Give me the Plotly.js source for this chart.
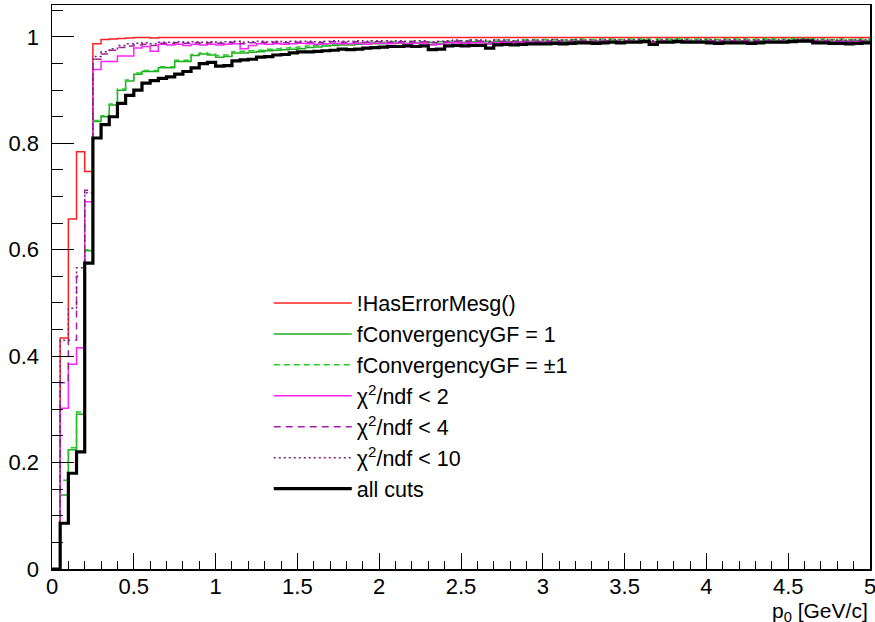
<!DOCTYPE html>
<html>
<head>
<meta charset="utf-8">
<script src="https://cdn.plot.ly/plotly-3.0.1.min.js"></script>
<style>
html,body{margin:0;padding:0;background:#fff;}
#chart{width:875px;height:622px;}
</style>
</head>
<body>
<div id="chart"></div>
<script>
// Histogram binning: 100 bins of width 0.05 GeV/c from 0 to 5
var binWidth = 0.05;
var nBins = 100;

var seriesNames = [
  "!HasErrorMesg()",
  "fConvergencyGF = 1",
  "fConvergencyGF = \u00b11",
  "\u03c7<sup>2</sup>/ndf &lt; 2",
  "\u03c7<sup>2</sup>/ndf &lt; 4",
  "\u03c7<sup>2</sup>/ndf &lt; 10",
  "all cuts"
];

var noErrorMesg = [
  0, 0.434, 0.658, 0.784, 0.747, 0.987, 0.995, 0.996, 0.997, 0.998,
  0.999, 0.999, 0.998, 0.999, 0.999, 0.999, 0.999, 0.999, 0.999, 0.999,
  0.999, 0.999, 0.999, 0.999, 0.999, 0.999, 0.999, 0.999, 0.999, 0.999,
  0.999, 0.999, 0.999, 0.999, 0.999, 0.999, 0.999, 0.999, 0.999, 0.999,
  0.999, 0.999, 0.999, 0.999, 0.999, 0.999, 0.999, 0.999, 0.999, 0.999,
  0.999, 0.999, 0.999, 0.999, 0.999, 0.999, 0.999, 0.999, 0.999, 0.999,
  0.999, 0.999, 0.999, 0.999, 0.999, 0.999, 0.999, 0.999, 0.999, 0.999,
  0.999, 0.999, 0.999, 0.999, 0.999, 0.999, 0.999, 0.999, 0.999, 0.999,
  0.999, 0.999, 0.999, 0.999, 0.999, 0.999, 0.999, 0.999, 0.999, 0.999,
  0.999, 0.999, 0.999, 0.999, 0.999, 0.999, 0.999, 0.999, 0.999, 0.999
];

var convergency1 = [
  0, 0.139, 0.224, 0.291, 0.598, 0.841, 0.850, 0.872, 0.900, 0.917,
  0.930, 0.935, 0.935, 0.942, 0.942, 0.954, 0.954, 0.965, 0.968, 0.966,
  0.962, 0.963, 0.970, 0.970, 0.971, 0.972, 0.974, 0.975, 0.976, 0.977,
  0.978, 0.980, 0.981, 0.983, 0.984, 0.985, 0.985, 0.986, 0.986, 0.987,
  0.987, 0.988, 0.988, 0.988, 0.989, 0.988, 0.986, 0.987, 0.989, 0.990,
  0.990, 0.991, 0.990, 0.988, 0.991, 0.991, 0.990, 0.991, 0.992, 0.991,
  0.992, 0.992, 0.991, 0.992, 0.993, 0.992, 0.992, 0.993, 0.993, 0.992,
  0.993, 0.993, 0.994, 0.991, 0.993, 0.993, 0.994, 0.993, 0.993, 0.993,
  0.993, 0.992, 0.993, 0.993, 0.993, 0.992, 0.993, 0.994, 0.993, 0.993,
  0.994, 0.994, 0.995, 0.993, 0.993, 0.992, 0.993, 0.992, 0.993, 0.993
];

var convergencyPM1 = [
  0, 0.167, 0.228, 0.295, 0.600, 0.843, 0.852, 0.874, 0.902, 0.919,
  0.932, 0.937, 0.937, 0.944, 0.944, 0.956, 0.956, 0.967, 0.970, 0.968,
  0.965, 0.966, 0.972, 0.973, 0.974, 0.975, 0.977, 0.978, 0.979, 0.980,
  0.981, 0.983, 0.984, 0.985, 0.986, 0.987, 0.988, 0.989, 0.989, 0.990,
  0.990, 0.991, 0.991, 0.991, 0.992, 0.991, 0.990, 0.991, 0.992, 0.993,
  0.993, 0.994, 0.993, 0.992, 0.994, 0.994, 0.993, 0.994, 0.995, 0.994,
  0.995, 0.995, 0.994, 0.995, 0.996, 0.995, 0.995, 0.996, 0.996, 0.995,
  0.996, 0.996, 0.997, 0.995, 0.996, 0.996, 0.997, 0.996, 0.996, 0.996,
  0.996, 0.995, 0.996, 0.996, 0.996, 0.995, 0.996, 0.997, 0.996, 0.996,
  0.997, 0.997, 0.997, 0.996, 0.996, 0.995, 0.996, 0.995, 0.996, 0.996
];

var chi2Below2 = [
  0, 0.302, 0.385, 0.416, 0.690, 0.939, 0.954, 0.954, 0.964, 0.964,
  0.979, 0.982, 0.973, 0.986, 0.985, 0.986, 0.984, 0.986, 0.985, 0.986,
  0.985, 0.986, 0.987, 0.978, 0.984, 0.987, 0.986, 0.987, 0.986, 0.987,
  0.988, 0.987, 0.986, 0.987, 0.988, 0.987, 0.987, 0.988, 0.986, 0.988,
  0.988, 0.987, 0.989, 0.987, 0.988, 0.988, 0.985, 0.986, 0.989, 0.989,
  0.988, 0.989, 0.989, 0.986, 0.989, 0.990, 0.989, 0.990, 0.990, 0.989,
  0.990, 0.990, 0.989, 0.990, 0.991, 0.990, 0.990, 0.991, 0.991, 0.990,
  0.991, 0.991, 0.992, 0.988, 0.991, 0.991, 0.992, 0.991, 0.991, 0.991,
  0.991, 0.990, 0.991, 0.991, 0.991, 0.990, 0.991, 0.992, 0.991, 0.991,
  0.992, 0.992, 0.993, 0.991, 0.991, 0.990, 0.991, 0.990, 0.991, 0.991
];

var chi2Below4 = [
  0, 0.350, 0.430, 0.550, 0.712, 0.958, 0.968, 0.975, 0.980, 0.983,
  0.985, 0.986, 0.984, 0.988, 0.988, 0.989, 0.988, 0.989, 0.988, 0.989,
  0.988, 0.989, 0.990, 0.987, 0.989, 0.990, 0.989, 0.990, 0.989, 0.990,
  0.990, 0.990, 0.989, 0.990, 0.991, 0.990, 0.990, 0.991, 0.990, 0.991,
  0.991, 0.990, 0.991, 0.990, 0.991, 0.991, 0.989, 0.990, 0.991, 0.992,
  0.991, 0.992, 0.992, 0.990, 0.992, 0.992, 0.991, 0.992, 0.992, 0.992,
  0.992, 0.993, 0.992, 0.992, 0.993, 0.992, 0.992, 0.993, 0.993, 0.992,
  0.993, 0.993, 0.993, 0.991, 0.993, 0.993, 0.993, 0.993, 0.992, 0.993,
  0.993, 0.992, 0.993, 0.993, 0.993, 0.992, 0.993, 0.993, 0.993, 0.993,
  0.993, 0.994, 0.994, 0.993, 0.993, 0.992, 0.993, 0.992, 0.993, 0.993
];

var chi2Below10 = [
  0, 0.430, 0.490, 0.566, 0.707, 0.963, 0.972, 0.978, 0.984, 0.987,
  0.988, 0.989, 0.987, 0.990, 0.990, 0.991, 0.990, 0.991, 0.990, 0.991,
  0.990, 0.991, 0.992, 0.990, 0.991, 0.992, 0.991, 0.992, 0.991, 0.992,
  0.992, 0.992, 0.991, 0.992, 0.993, 0.992, 0.992, 0.993, 0.992, 0.993,
  0.993, 0.992, 0.993, 0.992, 0.993, 0.993, 0.991, 0.992, 0.993, 0.994,
  0.993, 0.994, 0.994, 0.992, 0.994, 0.994, 0.993, 0.994, 0.994, 0.994,
  0.994, 0.995, 0.994, 0.994, 0.995, 0.994, 0.994, 0.995, 0.995, 0.994,
  0.995, 0.995, 0.995, 0.993, 0.995, 0.995, 0.995, 0.995, 0.994, 0.995,
  0.995, 0.994, 0.995, 0.995, 0.995, 0.994, 0.995, 0.995, 0.995, 0.995,
  0.995, 0.996, 0.996, 0.995, 0.995, 0.994, 0.995, 0.994, 0.995, 0.995
];

var allCuts = [
  0, 0.086, 0.180, 0.220, 0.575, 0.810, 0.835, 0.850, 0.875, 0.890,
  0.900, 0.913, 0.918, 0.922, 0.925, 0.930, 0.935, 0.942, 0.950, 0.952,
  0.945, 0.946, 0.955, 0.957, 0.958, 0.962, 0.963, 0.966, 0.967, 0.970,
  0.972, 0.972, 0.973, 0.974, 0.975, 0.977, 0.976, 0.977, 0.979, 0.980,
  0.981, 0.982, 0.982, 0.983, 0.982, 0.983, 0.976, 0.977, 0.983, 0.984,
  0.983, 0.984, 0.984, 0.979, 0.985, 0.986, 0.985, 0.986, 0.987, 0.987,
  0.987, 0.988, 0.987, 0.988, 0.989, 0.989, 0.988, 0.989, 0.990, 0.989,
  0.990, 0.990, 0.991, 0.986, 0.990, 0.990, 0.991, 0.990, 0.990, 0.990,
  0.989, 0.988, 0.989, 0.989, 0.989, 0.988, 0.989, 0.990, 0.990, 0.990,
  0.991, 0.992, 0.992, 0.989, 0.989, 0.988, 0.988, 0.987, 0.988, 0.989
];

var xTickVals = [0, 0.5, 1, 1.5, 2, 2.5, 3, 3.5, 4, 4.5, 5];
var xTickText = ["0", "0.5", "1", "1.5", "2", "2.5", "3", "3.5", "4", "4.5", "5"];
var yTickVals = [0, 0.2, 0.4, 0.6, 0.8, 1];
var yTickText = ["0", "0.2", "0.4", "0.6", "0.8", "1"];

// bin edges (left edges + final right edge)
var edges = [];
for (var i = 0; i <= nBins; i++) edges.push(+(i * binWidth).toFixed(4));

function stepY(vals) { return vals.concat([vals[vals.length - 1]]); }

var seriesData = [noErrorMesg, convergency1, convergencyPM1, chi2Below2, chi2Below4, chi2Below10, allCuts];
var styles = [
  {color: "#ff2020", width: 1.5, dash: "solid"},
  {color: "#22aa22", width: 1.5, dash: "solid"},
  {color: "#22cc22", width: 1.5, dash: "6px,4px"},
  {color: "#ff22ff", width: 1.5, dash: "solid"},
  {color: "#a020a0", width: 1.5, dash: "7px,5px"},
  {color: "#7a207a", width: 1.5, dash: "2px,3px"},
  {color: "#000000", width: 3.2, dash: "solid"}
];

var traces = seriesData.map(function (vals, k) {
  return {
    type: "scatter",
    mode: "lines",
    x: edges,
    y: stepY(vals),
    name: seriesNames[k],
    line: {shape: "hv", color: styles[k].color, width: styles[k].width, dash: styles[k].dash},
    hoverinfo: "skip"
  };
});

var font = {family: "Liberation Sans, Arial, sans-serif", color: "#000"};

var layout = {
  width: 875, height: 622,
  margin: {l: 52, r: 5, t: 5, b: 53, pad: 0},
  paper_bgcolor: "#fff", plot_bgcolor: "#fff",
  showlegend: true,
  legend: {
    x: 0.265, y: 0.508, xanchor: "left", yanchor: "top",
    bgcolor: "rgba(255,255,255,0)", borderwidth: 0,
    font: {family: font.family, size: 21.5, color: "#000"},
    itemwidth: 78,
    tracegroupgap: 0
  },
  xaxis: {
    range: [0, 5], tickvals: xTickVals, ticktext: xTickText,
    ticks: "inside", ticklen: 16, tickwidth: 1, tickcolor: "#000",
    minor: {dtick: 0.1, ticks: "inside", ticklen: 8, tickwidth: 1, tickcolor: "#000"},
    showline: true, linecolor: "#000", linewidth: 1.5, mirror: true,
    showgrid: false, zeroline: false,
    tickfont: {family: font.family, size: 22, color: "#000"},
    ticklabelstandoff: -3,
    ticklabeloverflow: "allow"
  },
  yaxis: {
    range: [0, 1.06], tickvals: yTickVals, ticktext: yTickText,
    ticks: "inside", ticklen: 22, tickwidth: 1, tickcolor: "#000",
    minor: {dtick: 0.05, ticks: "inside", ticklen: 11, tickwidth: 1, tickcolor: "#000"},
    showline: true, linecolor: "#000", linewidth: 1.5, mirror: true,
    showgrid: false, zeroline: false,
    tickfont: {family: font.family, size: 22, color: "#000"},
    ticklabelstandoff: 7,
    ticklabeloverflow: "allow"
  },
  annotations: [{
    xref: "paper", yref: "paper", x: 1, y: 0, xanchor: "right", yanchor: "top",
    yshift: -28, showarrow: false,
    text: "p<sub>0</sub> [GeV/c]",
    font: {family: font.family, size: 21, color: "#000"}
  }]
};

Plotly.newPlot("chart", traces, layout, {staticPlot: true, displayModeBar: false});
</script>
</body>
</html>
